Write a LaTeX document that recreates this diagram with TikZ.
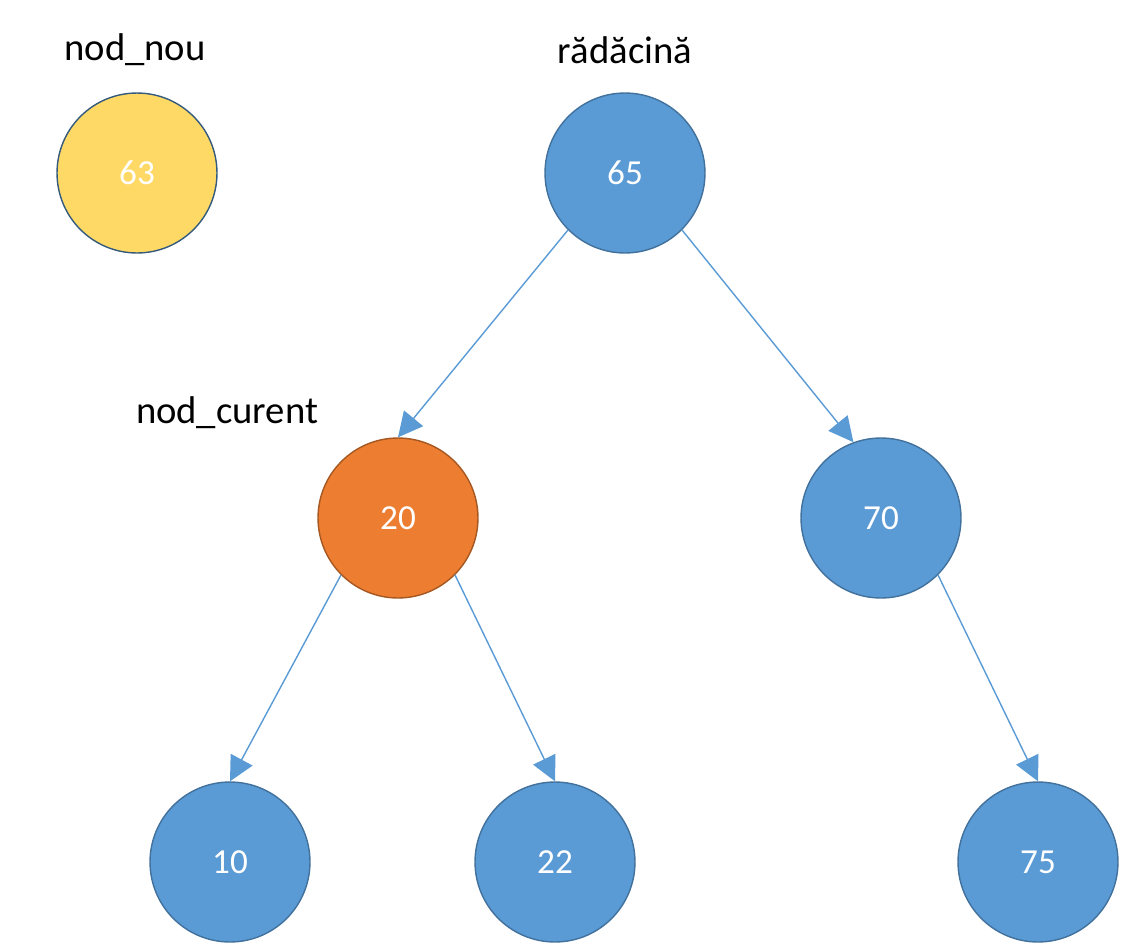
\documentclass[tikz,border=0pt]{standalone}
\usepackage{fontspec}
\setmainfont{Carlito}
\usetikzlibrary{arrows.meta, positioning}
\definecolor{nodblue}{HTML}{5B9BD5}
\definecolor{nodedge}{HTML}{41719C}
\definecolor{nodorange}{HTML}{ED7D31}
\definecolor{nodyellow}{HTML}{FFD966}
\tikzset{>=Triangle}
\begin{document}
\begin{tikzpicture}[x=0.02cm,y=-0.02cm,
	nod/.style={circle, minimum size=3.2cm, inner sep=0pt, fill=nodblue, draw=nodedge, thick, text=white, font=\fontsize{20}{24}\selectfont},
	eticheta/.style={font=\fontsize{22}{26}\selectfont},
	leg/.style={nodblue, thick, -{Triangle[length=14pt,width=14pt]}}]
		\useasboundingbox (0,0) rectangle (1123,944);
		
		\node [nod, fill=nodyellow, draw=nodedge!80!black] (n63) at (137,173) {63};
		\node [nod] (n65) at (625,173) {65};
		\node [nod, fill=nodorange, draw=nodorange!70!black] (n20) at (398,518) {20};
		\node [nod] (n70) at (881,518) {70};
		\node [nod] (n10) at (230,862) {10};
		\node [nod] (n22) at (555,862) {22};
		\node [nod] (n75) at (1038,862) {75};
		
		\node [eticheta] (lnou) at (135,50) {nod\_nou};
		\node [eticheta] (lrad) at (625,50) {rădăcină};
		\node [eticheta] (lcur) at (227,413) {nod\_curent};
		
		\draw [leg] (n65.south west) -- (n20.north);
		\draw [leg] (n65.south east) -- (n70.110);
		\draw [leg] (n20.south west) -- (n10.north);
		\draw [leg] (n20.south east) -- (n22.north);
		\draw [leg] (n70.south east) -- (n75.north);
		
		\end{tikzpicture}
\end{document}
